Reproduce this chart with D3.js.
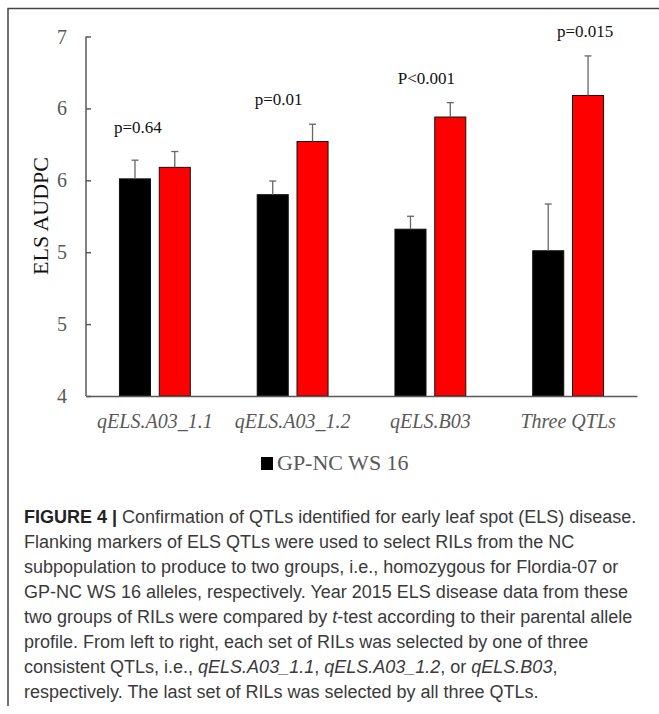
<!DOCTYPE html>
<head>
  <meta charset="utf-8">
  <style>
  body{
    margin:0;
    background:#fff;
  }
  .tick-label{
    font: 20px "Liberation Serif", "Times New Roman", serif;
    fill:#595959;
  }
  .cat-label{
    font: italic 20px "Liberation Serif", "Times New Roman", serif;
    fill:#595959;
  }
  .p-label{
    font: 17px "Liberation Serif", "Times New Roman", serif;
    fill:#111;
  }
  .caption{
    font: 18px "Liberation Sans", Arial, sans-serif;
    fill:#3a3a3a;
  }
  </style>
</head>
<body>
  <svg width="659" height="714"></svg>
  <script src="https://d3js.org/d3.v7.min.js"></script>
  <script>

  // data
  var categories = ["qELS.A03_1.1", "qELS.A03_1.2", "qELS.B03", "Three QTLs"];
  var series = ["GP-NC WS 16", "Florida-07"];
  var gpValues = [5.51, 5.40, 5.16, 5.01];
  var gpErrors = [0.13, 0.095, 0.09, 0.325];
  var flValues = [5.59, 5.77, 5.94, 6.09];
  var flErrors = [0.11, 0.12, 0.10, 0.275];
  var pLabels = ["p=0.64", "p=0.01", "P<0.001", "p=0.015"];
  var tickValues = [4, 4.5, 5, 5.5, 6, 6.5];
  var tickLabels = ["4", "5", "5", "6", "6", "7"];

  // small horizontal nudges for the p-value annotations
  var pNudge = [-17, -14, -4, 17];

  var caption = [
    [["FIGURE 4 |", "b"], [" Confirmation of QTLs identified for early leaf spot (ELS) disease."]],
    [["Flanking markers of ELS QTLs were used to select RILs from the NC"]],
    [["subpopulation to produce to two groups, i.e., homozygous for Flordia-07 or"]],
    [["GP-NC WS 16 alleles, respectively. Year 2015 ELS disease data from these"]],
    [["two groups of RILs were compared by "], ["t", "i"], ["-test according to their parental allele"]],
    [["profile. From left to right, each set of RILs was selected by one of three"]],
    [["consistent QTLs, i.e., "], ["qELS.A03_1.1", "i"], [", "], ["qELS.A03_1.2", "i"], [", or "], ["qELS.B03", "i"], [","]],
    [["respectively. The last set of RILs was selected by all three QTLs."]]
  ];

  var rows = categories.map(function(c, i) {
    return {
      cat: c, p: pLabels[i], nudge: pNudge[i],
      bars: [
        {key: series[0], value: gpValues[i], err: gpErrors[i], color: "#000"},
        {key: series[1], value: flValues[i], err: flErrors[i], color: "#ff0000"}
      ]
    };
  });

  var svg = d3.select("svg");

  // outer frame (top and left edges only)
  svg.append("path")
      .attr("d", "M8,706V8.5H659")
      .attr("fill", "none")
      .attr("stroke", "#444")
      .attr("stroke-width", 1.5);

  var x0 = d3.scaleBand().domain(categories).range([86, 637]);
  var x1 = d3.scaleBand().domain(series).range([0, x0.bandwidth()])
      .paddingInner(0.22).paddingOuter(0.84);
  var y = d3.scaleLinear().domain([4, 6.5]).range([396, 36.5]);

  // y axis
  var yAxis = svg.append("g")
      .attr("transform", "translate(86,0)")
      .call(d3.axisRight(y).tickValues(tickValues).tickSize(5)
        .tickFormat(function(d, i) { return ""; }));
  yAxis.select(".domain").attr("stroke", "#595959").attr("stroke-width", 1.5)
      .attr("d", "M0," + y(6.5) + "V" + y(4));
  yAxis.selectAll(".tick line").attr("stroke", "#595959").attr("stroke-width", 1.5);

  svg.selectAll(".tick-label")
    .data(tickValues)
    .enter().append("text")
      .attr("class", "tick-label")
      .attr("x", 67)
      .attr("y", function(d) { return y(d) + 7; })
      .attr("text-anchor", "end")
      .text(function(d, i) { return tickLabels[i]; });

  svg.append("text")
      .attr("transform", "translate(48," + 216 + ") rotate(-90)")
      .attr("text-anchor", "middle")
      .style("font", "22px 'Liberation Serif', serif")
      .style("fill", "#111")
      .text("ELS AUDPC");

  // bars
  var group = svg.selectAll(".grp")
    .data(rows)
    .enter().append("g")
      .attr("class", "grp")
      .attr("transform", function(d) { return "translate(" + x0(d.cat) + ",0)"; });

  group.selectAll("rect")
    .data(function(d) { return d.bars; })
    .enter().append("rect")
      .attr("x", function(d) { return x1(d.key); })
      .attr("y", function(d) { return y(d.value); })
      .attr("width", x1.bandwidth())
      .attr("height", function(d) { return y(4) - y(d.value); })
      .attr("fill", function(d) { return d.color; })
      .attr("stroke", "#111")
      .attr("stroke-width", 1);

  // error bars (upper only)
  var eb = group.selectAll(".err")
    .data(function(d) { return d.bars; })
    .enter().append("g")
      .attr("class", "err")
      .attr("stroke", "#666")
      .attr("stroke-width", 1.3);
  eb.append("line")
      .attr("x1", function(d) { return x1(d.key) + x1.bandwidth() / 2; })
      .attr("x2", function(d) { return x1(d.key) + x1.bandwidth() / 2; })
      .attr("y1", function(d) { return y(d.value); })
      .attr("y2", function(d) { return y(d.value + d.err); });
  eb.append("line")
      .attr("x1", function(d) { return x1(d.key) + x1.bandwidth() / 2 - 3.5; })
      .attr("x2", function(d) { return x1(d.key) + x1.bandwidth() / 2 + 3.5; })
      .attr("y1", function(d) { return y(d.value + d.err); })
      .attr("y2", function(d) { return y(d.value + d.err); });

  // p-value annotations
  group.append("text")
      .attr("class", "p-label")
      .attr("text-anchor", "middle")
      .attr("x", function(d) { return x0.bandwidth() / 2 + d.nudge; })
      .attr("y", function(d) {
        var top = d3.max(d.bars, function(b) { return b.value + b.err; });
        return y(top) - 19;
      })
      .text(function(d) { return d.p; });

  // x axis
  var xAxis = svg.append("g")
      .attr("transform", "translate(0," + y(4) + ")")
      .call(d3.axisBottom(x0).tickSize(0).tickFormat(""));
  xAxis.select(".domain").attr("stroke", "#595959").attr("stroke-width", 1.5);

  svg.selectAll(".cat-label")
    .data(categories)
    .enter().append("text")
      .attr("class", "cat-label")
      .attr("x", function(d) { return x0(d) + x0.bandwidth() / 2; })
      .attr("y", 428)
      .attr("text-anchor", "middle")
      .text(function(d) { return d; });

  // legend (only the first series is visible in the figure)
  var legend = svg.append("g").attr("transform", "translate(261,457)");
  legend.append("rect")
      .attr("width", 12).attr("height", 13)
      .attr("fill", "#000");
  legend.append("text")
      .attr("x", 16).attr("y", 13)
      .style("font", "22px 'Liberation Serif', serif")
      .style("fill", "#595959")
      .text(series[0]);

  // caption
  var cap = svg.append("g");
  caption.forEach(function(line, i) {
    var t = cap.append("text")
        .attr("class", "caption")
        .attr("x", 24)
        .attr("y", 523 + i * 25);
    line.forEach(function(seg) {
      var s = t.append("tspan").text(seg[0]);
      if (seg[1] === "b") s.style("font-weight", "bold").style("fill", "#222");
      if (seg[1] === "i") s.style("font-style", "italic");
    });
  });

  </script>
</body>
